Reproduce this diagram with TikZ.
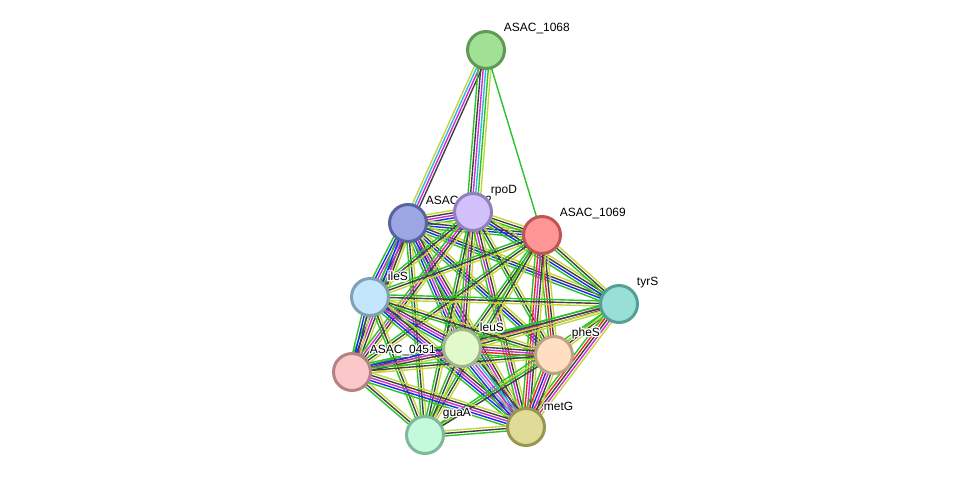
\documentclass[tikz,border=0pt]{standalone}
\usepackage{fontspec}
\setmainfont{Liberation Sans}
\usepackage{tikz}
\usetikzlibrary{calc, backgrounds}
\usepackage{xcolor}
\usepackage{contour}
\contourlength{0.7pt}
% evidence colours
\definecolor{eGreen}{RGB}{40, 196, 40}
\definecolor{eBlack}{RGB}{64, 64, 64}
\definecolor{eYellow}{RGB}{196, 214, 60}
\definecolor{eBlue}{RGB}{32, 40, 236}
\definecolor{eMagenta}{RGB}{212, 44, 212}
\definecolor{eCyan}{RGB}{48, 184, 224}
\definecolor{eRed}{RGB}{238, 40, 40}
\definecolor{eLilac}{RGB}{150, 150, 232}
% node colours (fill / border)
\definecolor{fA}{RGB}{160, 225, 150} \definecolor{dA}{RGB}{96, 152, 84}
\definecolor{fB}{RGB}{156, 166, 226} \definecolor{dB}{RGB}{88, 100, 160}
\definecolor{fC}{RGB}{210, 192, 250} \definecolor{dC}{RGB}{146, 128, 190}
\definecolor{fD}{RGB}{255, 150, 150} \definecolor{dD}{RGB}{190, 84, 84}
\definecolor{fE}{RGB}{152, 224, 214} \definecolor{dE}{RGB}{84, 160, 150}
\definecolor{fF}{RGB}{196, 230, 250} \definecolor{dF}{RGB}{128, 160, 184}
\definecolor{fG}{RGB}{226, 250, 202} \definecolor{dG}{RGB}{160, 182, 140}
\definecolor{fH}{RGB}{255, 222, 194} \definecolor{dH}{RGB}{190, 160, 130}
\definecolor{fI}{RGB}{250, 200, 200} \definecolor{dI}{RGB}{180, 130, 130}
\definecolor{fJ}{RGB}{196, 250, 220} \definecolor{dJ}{RGB}{128, 184, 154}
\definecolor{fK}{RGB}{224, 220, 152} \definecolor{dK}{RGB}{152, 150, 82}

\def\gap{1.45}
% a bundle of parallel evidence lines between two nodes
\newcommand{\bundle}[3]{%
  \foreach \ec [count=\ek] in {#3} {\xdef\nlines{\ek}}%
  \foreach \ec [count=\ek] in {#3} {%
    \pgfmathsetmacro{\eoff}{(\ek-(\nlines+1)/2)*\gap}%
    \draw[link, \ec] ($(#1)!\eoff pt!90:(#2)$) -- ($(#2)!\eoff pt!-90:(#1)$);
  }%
}

\begin{document}
\begin{tikzpicture}[x=0.2mm, y=-0.2mm,
    gene/.style={circle, minimum size=7.4mm, inner sep=0pt, line width=1.7pt},
    lbl/.style={font=\fontsize{6.8}{8}\selectfont, inner sep=1pt, label distance=1.4pt, yshift=-1.8pt},
    link/.style={line width=0.8pt}]
  \useasboundingbox (0,0) rectangle (975,481);

  % Proteins
  \foreach \nm/\x/\y/\cl/\txt in {
      n1068/486/50/A/ASAC\_1068,
      n0452/408/223/B/ASAC\_0452,
      rpoD/473/212/C/rpoD,
      n1069/542/235/D/ASAC\_1069,
      tyrS/619/304/E/tyrS,
      ileS/370/297/F/ileS,
      n0451/352/372/I/ASAC\_0451,
      leuS/462/348/G/leuS,
      pheS/554/355/H/pheS,
      guaA/425/435/J/guaA,
      metG/526/427/K/metG} {
    \node[gene, fill=f\cl, draw=d\cl, label={[lbl]above right:\contour{white}{\txt}}] (\nm) at (\x, \y) {};
  }

  % Evidence lines
  \begin{scope}[on background layer]
    \bundle{n1068}{n0452}{eYellow, eCyan, eMagenta, eBlack}
    \bundle{n1068}{rpoD}{eGreen, eBlack, eMagenta, eCyan, eGreen, eYellow}
    \bundle{n1068}{n1069}{eGreen}

    \bundle{n0452}{rpoD}{eGreen, eBlue, eMagenta, eBlack, eYellow}
    \bundle{n0452}{n1069}{eGreen, eBlue, eBlack, eYellow}
    \bundle{n0452}{tyrS}{eGreen, eBlue, eBlack, eYellow}
    \bundle{n0452}{ileS}{eGreen, eBlue, eMagenta, eCyan, eBlack, eYellow}
    \bundle{n0452}{leuS}{eGreen, eBlue, eMagenta, eBlack, eYellow}
    \bundle{n0452}{pheS}{eGreen, eBlue, eBlack, eYellow}
    \bundle{n0452}{n0451}{eGreen, eBlue, eMagenta, eBlack, eYellow}
    \bundle{n0452}{guaA}{eGreen, eBlack, eYellow}
    \bundle{n0452}{metG}{eGreen, eBlue, eMagenta, eBlack, eYellow}

    \bundle{rpoD}{n1069}{eGreen, eBlack, eYellow}
    \bundle{rpoD}{tyrS}{eGreen, eBlue, eBlack, eYellow}
    \bundle{rpoD}{ileS}{eGreen, eBlack, eYellow}
    \bundle{rpoD}{leuS}{eGreen, eMagenta, eBlack, eYellow}
    \bundle{rpoD}{pheS}{eGreen, eBlack, eYellow}
    \bundle{rpoD}{n0451}{eGreen, eMagenta, eBlack, eYellow}
    \bundle{rpoD}{guaA}{eGreen, eBlack, eYellow}
    \bundle{rpoD}{metG}{eGreen, eMagenta, eBlack, eYellow}

    \bundle{n1069}{tyrS}{eGreen, eBlack, eYellow}
    \bundle{n1069}{ileS}{eGreen, eBlack, eYellow}
    \bundle{n1069}{leuS}{eGreen, eBlack, eYellow}
    \bundle{n1069}{pheS}{eGreen, eRed, eBlack, eYellow}
    \bundle{n1069}{n0451}{eGreen, eBlack, eYellow}
    \bundle{n1069}{guaA}{eGreen, eBlack, eYellow}
    \bundle{n1069}{metG}{eGreen, eRed, eMagenta, eBlack, eYellow}

    \bundle{tyrS}{ileS}{eGreen, eBlack, eYellow}
    \bundle{tyrS}{leuS}{eGreen, eMagenta, eBlack, eYellow}
    \bundle{tyrS}{pheS}{eGreen, eBlack, eYellow}
    \bundle{tyrS}{n0451}{eGreen, eBlack, eYellow}
    \bundle{tyrS}{guaA}{eGreen, eYellow}
    \bundle{tyrS}{metG}{eGreen, eRed, eBlack, eMagenta, eYellow}

    \bundle{ileS}{leuS}{eGreen, eBlue, eMagenta, eBlack, eYellow}
    \bundle{ileS}{pheS}{eGreen, eBlack, eYellow}
    \bundle{ileS}{n0451}{eGreen, eBlue, eBlack, eYellow}
    \bundle{ileS}{guaA}{eGreen, eBlack, eYellow}
    \bundle{ileS}{metG}{eGreen, eBlue, eMagenta, eBlack, eYellow}

    \bundle{leuS}{pheS}{eGreen, eRed, eMagenta, eBlack, eYellow}
    \bundle{leuS}{n0451}{eGreen, eBlue, eMagenta, eBlack, eYellow}
    \bundle{leuS}{guaA}{eGreen, eBlack, eYellow}
    \bundle{leuS}{metG}{eGreen, eBlue, eLilac, eMagenta, eCyan, eBlack, eYellow}

    \bundle{pheS}{n0451}{eGreen, eBlack, eYellow}
    \bundle{pheS}{guaA}{eGreen, eBlack}
    \bundle{pheS}{metG}{eGreen, eRed, eBlue, eMagenta, eBlack, eYellow}

    \bundle{n0451}{guaA}{eGreen, eBlack, eYellow}
    \bundle{n0451}{metG}{eGreen, eBlue, eMagenta, eBlack, eYellow}
    \bundle{guaA}{metG}{eGreen, eBlack, eYellow}
  \end{scope}
\end{tikzpicture}
\end{document}
